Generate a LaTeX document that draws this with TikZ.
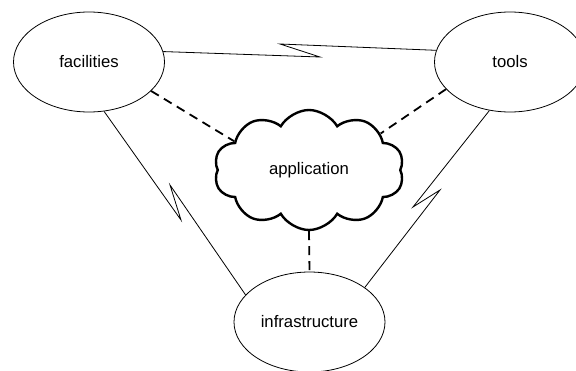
\documentclass[tikz,border=0pt]{standalone}
\usepackage{fontspec}
\setmainfont{Liberation Sans}
\usetikzlibrary{shapes.geometric, shapes.symbols}

\begin{document}
\begin{tikzpicture}[
  x=1pt, y=-1pt,
  place/.style={ellipse, draw=black, line width=0.8pt, minimum width=151pt, minimum height=100pt, inner sep=0pt, font=\fontsize{16.7}{20}\selectfont},
  blob/.style={cloud, draw=black, line width=2.4pt, cloud puffs=10, cloud puff arc=120, aspect=1.6, minimum width=190pt, minimum height=120pt, inner sep=0pt, font=\fontsize{16.7}{20}\selectfont},
  link/.style={line width=0.8pt},
  uses/.style={line width=1.8pt, dash pattern=on 9pt off 6pt}
]
\useasboundingbox (0,0) rectangle (576,370);

\node[place] (fac) at (89,62) {facilities};
\node[place] (tools) at (510,62) {tools};
\node[place] (infra) at (309.5,322) {infrastructure};
\node[blob] (app) at (309,170) {application};

% zigzag corners
\coordinate (zA1) at (320,57);
\coordinate (zA2) at (280,44);
\coordinate (zB1) at (181,220);
\coordinate (zB2) at (170,185);
\coordinate (zC1) at (413,207);
\coordinate (zC2) at (440,190);

% Links
\draw[link] (fac.8) -- (zA1) -- (zA2) -- (tools.171);
\draw[link] (fac.-73) -- (zB1) -- (zB2) -- (infra.157);
\draw[link] (tools.247) -- (zC1) -- (zC2) -- (infra.32);

\draw[uses] (fac.-25) -- (app.159);
\draw[uses] (tools.203) -- (app.27);
\draw[uses] (app.south) -- (infra.north);

\end{tikzpicture}
\end{document}
